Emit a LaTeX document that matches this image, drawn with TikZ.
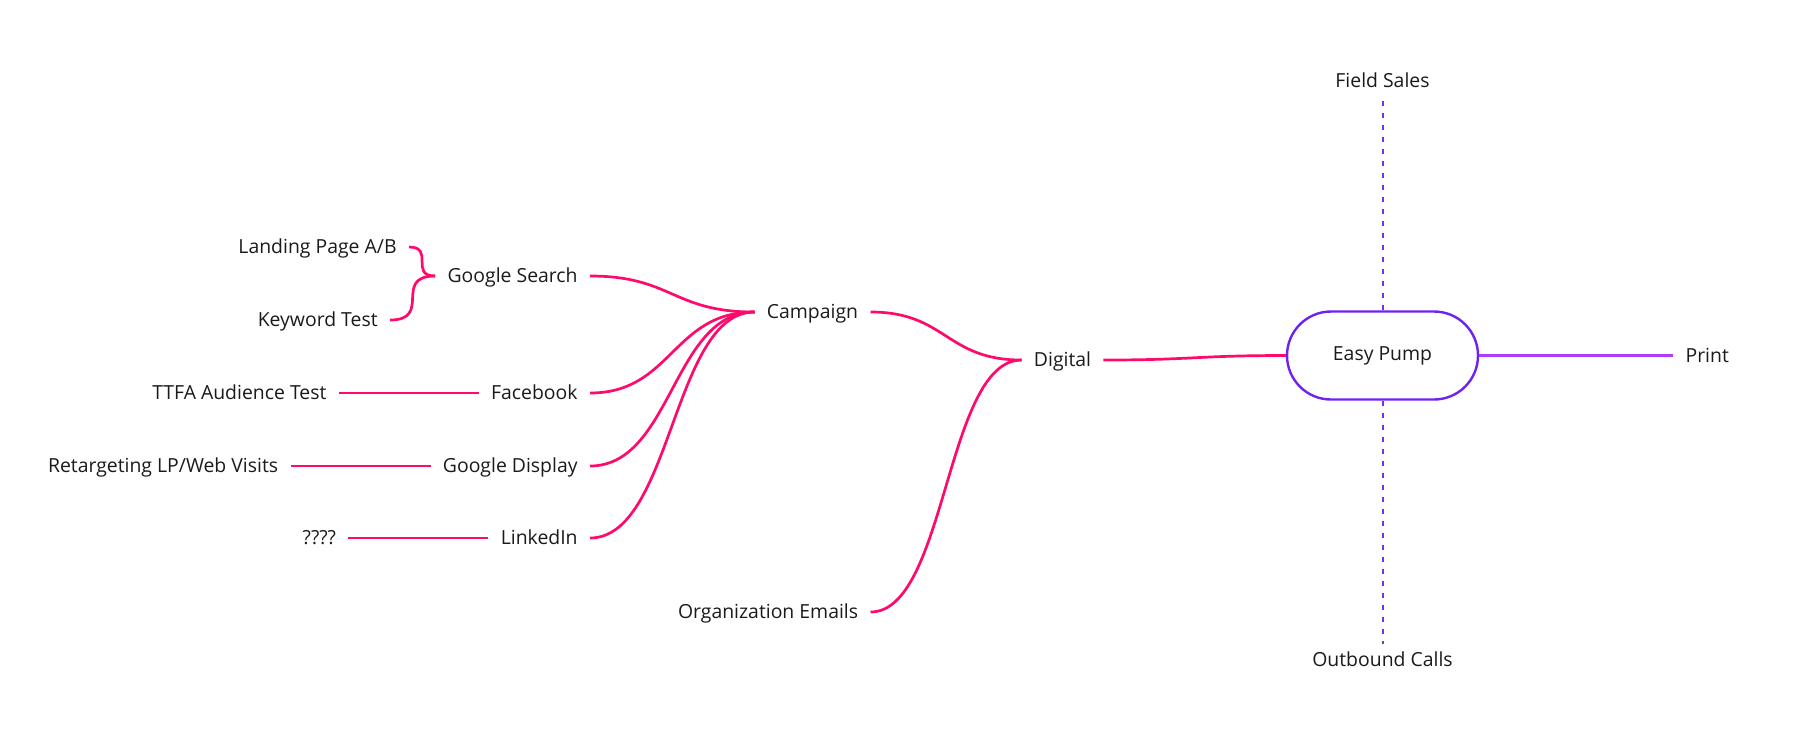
\documentclass[tikz,border=0pt]{standalone}
\usepackage{fontspec}
\setmainfont{Open Sans}
\usepackage{xcolor}
\usepackage{tikz}
\usetikzlibrary{positioning}
\definecolor{ink}{HTML}{1A1A1A}
\definecolor{branchpink}{HTML}{FF0A6C}
\definecolor{hubpurple}{HTML}{6E22F2}
\definecolor{armpurple}{HTML}{AE3CF8}
\definecolor{dashpurple}{HTML}{7A2CF5}

\begin{document}
\begin{tikzpicture}[x=0.5pt, y=-0.5pt,
    leaf/.style={inner xsep=6pt, inner ysep=3pt, text height=1.5ex, text depth=.25ex, text=ink, font=\fontsize{9.7}{12}\selectfont},
    hub/.style={rectangle, rounded corners=22pt, draw=hubpurple, line width=1.2pt, minimum width=95.5pt, minimum height=44pt, align=center, text=ink, font=\fontsize{9.7}{12}\selectfont},
    branch/.style={draw=branchpink, line width=1.35pt},
    arm/.style={draw=armpurple, line width=1.35pt},
    guide/.style={draw=dashpurple, line width=1pt, dash pattern=on 2.5pt off 3.5pt}
]
\useasboundingbox (0,0) rectangle (1803,730);

% centre and its purple arms
\node[hub] (pump) at (1382.5,355.5) {Easy Pump};
\node[leaf, right=97pt of pump] (print) {Print};
\node[leaf, inner ysep=5pt, anchor=south] (fieldsales) at (1382.5,101) {Field Sales};
\node[leaf, anchor=north] (outbound) at (1382.5,644) {Outbound Calls};

% pink side
\node[leaf] (digital) at (1062.5,360) {Digital};
\node[leaf] (campaign) at (812.5,312) {Campaign};
\node[leaf, anchor=east] (orgmails) at (870.5,612) {Organization Emails};
\node[leaf, anchor=east] (gsearch) at (590,276) {Google Search};
\node[leaf, anchor=east] (facebook) at (590,393) {Facebook};
\node[leaf, anchor=east] (gdisplay) at (590,466) {Google Display};
\node[leaf, anchor=east] (linkedin) at (590,538) {LinkedIn};
\node[leaf, anchor=east] (landing) at (409,247) {Landing Page A/B};
\node[leaf, anchor=east] (keyword) at (390,320) {Keyword Test};
\node[leaf, left=70pt of facebook] (ttfa) {TTFA Audience Test};
\node[leaf, left=70pt of gdisplay] (retarget) {Retargeting LP/Web Visits};
\node[leaf, left=70pt of linkedin] (unknown) {????};

\draw[arm] (pump) -- (print);
\draw[guide] (fieldsales) -- (pump);
\draw[guide] (pump) -- (outbound);

\draw[branch] (digital.east) .. controls +(91,0) and +(-91,0) .. (pump.west);
\draw[branch] (digital.west) .. controls +(-76,0) and +(76,0) .. (campaign.east);
\draw[branch] (digital.west) .. controls +(-76,0) and +(76,0) .. (orgmails.east);
\foreach \kid in {gsearch, facebook, gdisplay, linkedin}
    \draw[branch] (campaign.west) .. controls +(-82,0) and +(82,0) .. (\kid.east);
\draw[branch] (gsearch.west) .. controls +(-26,0) and +(26,0) .. (landing.east);
\draw[branch] (gsearch.west) .. controls +(-43,0) and +(43,0) .. (keyword.east);
\draw[branch] (facebook) -- (ttfa);
\draw[branch] (gdisplay) -- (retarget);
\draw[branch] (linkedin) -- (unknown);

\end{tikzpicture}
\end{document}
